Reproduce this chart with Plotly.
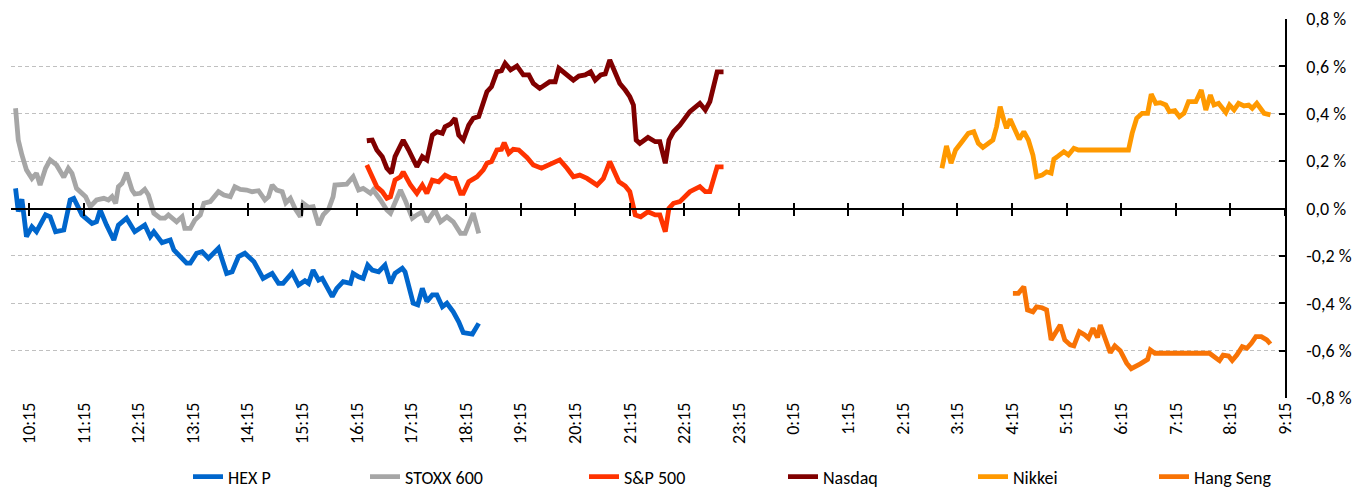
import plotly.graph_objects as go
from datetime import datetime, timedelta

# ---------------- data ----------------
TICK_LABELS = ["10:15", "11:15", "12:15", "13:15", "14:15", "15:15", "16:15", "17:15",
               "18:15", "19:15", "20:15", "21:15", "22:15", "23:15", "0:15", "1:15",
               "2:15", "3:15", "4:15", "5:15", "6:15", "7:15", "8:15", "9:15"]
Y_TICKS = [-0.8, -0.6, -0.4, -0.2, 0.0, 0.2, 0.4, 0.6, 0.8]
Y_TICK_LABELS = ["-0,8 %", "-0,6 %", "-0,4 %", "-0,2 %", "0,0 %", "0,2 %", "0,4 %", "0,6 %", "0,8 %"]

hex_t = ["10:00", "10:03", "10:07", "10:12", "10:18", "10:23", "10:33", "10:38", "10:44", "10:53",
         "11:00", "11:04", "11:13", "11:24", "11:29", "11:33", "11:40", "11:48", "11:53", "12:02",
         "12:11", "12:22", "12:28", "12:32", "12:41", "12:50", "12:54", "13:08", "13:12", "13:19",
         "13:25", "13:32", "13:43", "13:52", "13:58", "14:05", "14:12", "14:22", "14:32", "14:42",
         "14:49", "14:54", "15:04", "15:11", "15:18", "15:22", "15:27", "15:33", "15:37", "15:48",
         "15:53", "16:00", "16:08", "16:11", "16:17", "16:22", "16:27", "16:32", "16:39", "16:46",
         "16:52", "16:57", "17:05", "17:08", "17:17", "17:22", "17:27", "17:32", "17:38", "17:43",
         "17:49", "17:54", "18:01", "18:07", "18:12", "18:22", "18:29"]
hex_v = [0.085, -0.013, 0.039, -0.119, -0.077, -0.098, -0.027, -0.035, -0.098, -0.091,
         0.036, 0.043, -0.027, -0.063, -0.056, -0.006, -0.070, -0.133, -0.070, -0.041,
         -0.098, -0.070, -0.119, -0.098, -0.144, -0.133, -0.175, -0.231, -0.231, -0.189,
         -0.182, -0.210, -0.168, -0.274, -0.267, -0.203, -0.189, -0.225, -0.295, -0.274,
         -0.316, -0.316, -0.271, -0.323, -0.305, -0.316, -0.260, -0.302, -0.295, -0.372,
         -0.337, -0.309, -0.316, -0.274, -0.288, -0.295, -0.239, -0.260, -0.267, -0.239,
         -0.316, -0.274, -0.252, -0.267, -0.400, -0.407, -0.337, -0.393, -0.365, -0.365,
         -0.415, -0.400, -0.436, -0.478, -0.524, -0.530, -0.485]

stoxx_t = ["10:00", "10:03", "10:07", "10:12", "10:18", "10:23", "10:27", "10:33", "10:38", "10:45",
           "10:53", "10:58", "11:02", "11:07", "11:17", "11:22", "11:29", "11:37", "11:42", "11:46",
           "11:50", "11:53", "11:57", "12:02", "12:08", "12:11", "12:17", "12:22", "12:26", "12:32",
           "12:39", "12:44", "12:48", "12:57", "13:03", "13:06", "13:12", "13:17", "13:23", "13:27",
           "13:34", "13:43", "13:49", "13:56", "14:01", "14:07", "14:14", "14:20", "14:27", "14:34",
           "14:38", "14:42", "14:47", "14:53", "14:57", "15:02", "15:07", "15:13", "15:16", "15:22",
           "15:27", "15:33", "15:38", "15:44", "15:49", "15:51", "16:04", "16:11", "16:17", "16:22",
           "16:30", "16:33", "16:41", "16:48", "16:52", "16:59", "17:03", "17:08", "17:16", "17:21",
           "17:27", "17:32", "17:41", "17:47", "17:54", "18:01", "18:09", "18:14", "18:23", "18:29"]
stoxx_v = [0.423, 0.289, 0.226, 0.163, 0.127, 0.149, 0.099, 0.170, 0.205, 0.184,
           0.132, 0.170, 0.149, 0.085, 0.050, 0.008, 0.036, 0.043, 0.036, 0.050,
           0.022, 0.092, 0.106, 0.151, 0.078, 0.061, 0.064, 0.081, 0.057, -0.020,
           -0.041, -0.041, -0.027, -0.056, -0.035, -0.084, -0.084, -0.049, -0.027, 0.022,
           0.029, 0.071, 0.057, 0.050, 0.092, 0.081, 0.078, 0.071, 0.075, 0.036,
           0.050, 0.099, 0.078, 0.071, 0.024, 0.043, 0.001, -0.035, 0.022, 0.005,
           0.008, -0.070, -0.027, -0.003, 0.050, 0.099, 0.103, 0.134, 0.078, 0.085,
           0.064, 0.078, 0.036, -0.006, -0.020, 0.036, 0.078, 0.036, -0.041, -0.027,
           -0.014, -0.056, -0.006, -0.056, -0.035, -0.056, -0.105, -0.105, -0.020, -0.105]

sp_t = ["16:26", "16:32", "16:37", "16:43", "16:48", "16:52", "16:57", "17:03", "17:06", "17:14",
        "17:21", "17:27", "17:32", "17:38", "17:45", "17:52", "17:59", "18:03", "18:09", "18:12",
        "18:18", "18:27", "18:34", "18:38", "18:43", "18:49", "18:54", "18:57", "19:02", "19:07",
        "19:13", "19:22", "19:29", "19:38", "19:46", "19:51", "19:58", "20:06", "20:13", "20:20",
        "20:28", "20:39", "20:46", "20:53", "20:59", "21:03", "21:10", "21:15", "21:21", "21:27",
        "21:35", "21:43", "21:48", "21:54", "21:58", "22:03", "22:10", "22:21", "22:32", "22:38",
        "22:43", "22:47", "22:51", "22:58"]
sp_v = [0.184, 0.134, 0.092, 0.071, 0.043, 0.050, 0.120, 0.134, 0.155, 0.099,
        0.064, 0.099, 0.064, 0.120, 0.113, 0.141, 0.127, 0.127, 0.064, 0.064,
        0.113, 0.134, 0.163, 0.191, 0.198, 0.247, 0.250, 0.278, 0.233, 0.250,
        0.247, 0.216, 0.184, 0.170, 0.184, 0.188, 0.205, 0.170, 0.134, 0.141,
        0.127, 0.099, 0.127, 0.198, 0.141, 0.113, 0.095, 0.071, -0.027, -0.035,
        -0.014, -0.027, -0.027, -0.098, 0.001, 0.022, 0.029, 0.071, 0.092, 0.071,
        0.071, 0.127, 0.176, 0.176]

nasdaq_t = ["16:26", "16:32", "16:37", "16:43", "16:48", "16:53", "16:57", "17:01", "17:06", "17:12",
            "17:21", "17:27", "17:32", "17:38", "17:43", "17:49", "17:52", "17:58", "18:03", "18:07",
            "18:12", "18:18", "18:23", "18:29", "18:34", "18:38", "18:43", "18:49", "18:54", "18:58",
            "19:04", "19:11", "19:18", "19:24", "19:29", "19:36", "19:47", "19:53", "19:57", "20:04",
            "20:13", "20:19", "20:26", "20:32", "20:37", "20:43", "20:48", "20:53", "20:59", "21:04",
            "21:10", "21:15", "21:19", "21:22", "21:26", "21:35", "21:43", "21:48", "21:54", "21:58",
            "22:03", "22:10", "22:21", "22:32", "22:38", "22:43", "22:51", "22:58"]
nasdaq_v = [0.286, 0.289, 0.247, 0.219, 0.170, 0.149, 0.219, 0.247, 0.289, 0.247,
            0.176, 0.219, 0.205, 0.310, 0.324, 0.317, 0.345, 0.357, 0.381, 0.310,
            0.289, 0.352, 0.381, 0.388, 0.444, 0.493, 0.514, 0.577, 0.582, 0.613,
            0.585, 0.602, 0.564, 0.564, 0.528, 0.507, 0.535, 0.535, 0.592, 0.571,
            0.542, 0.559, 0.564, 0.577, 0.542, 0.564, 0.568, 0.627, 0.577, 0.528,
            0.500, 0.472, 0.437, 0.289, 0.275, 0.300, 0.282, 0.282, 0.191, 0.289,
            0.324, 0.352, 0.409, 0.444, 0.416, 0.451, 0.577, 0.577]

nikkei_t = ["2:58", "3:03", "3:08", "3:13", "3:20", "3:27", "3:33", "3:38", "3:43", "3:49",
            "3:54", "3:58", "4:02", "4:06", "4:09", "4:13", "4:19", "4:23", "4:28", "4:33",
            "4:38", "4:42", "4:48", "4:53", "4:58", "5:01", "5:06", "5:12", "5:17", "5:23",
            "5:28", "6:23", "6:27", "6:32", "6:38", "6:44", "6:48", "6:53", "6:58", "7:04",
            "7:08", "7:14", "7:19", "7:24", "7:29", "7:37", "7:43", "7:48", "7:53", "7:57",
            "8:02", "8:10", "8:14", "8:19", "8:24", "8:30", "8:35", "8:39", "8:44", "8:52",
            "8:59"]
nikkei_v = [0.170, 0.264, 0.191, 0.247, 0.282, 0.317, 0.324, 0.275, 0.258, 0.275,
            0.289, 0.345, 0.430, 0.374, 0.339, 0.377, 0.324, 0.292, 0.324, 0.289,
            0.226, 0.134, 0.141, 0.155, 0.149, 0.208, 0.222, 0.240, 0.226, 0.254,
            0.247, 0.247, 0.317, 0.381, 0.402, 0.402, 0.483, 0.444, 0.447, 0.437,
            0.409, 0.413, 0.388, 0.402, 0.451, 0.451, 0.500, 0.416, 0.479, 0.437,
            0.444, 0.405, 0.437, 0.416, 0.444, 0.433, 0.437, 0.423, 0.444, 0.402,
            0.395]

hang_t = ["4:16", "4:22", "4:28", "4:32", "4:38", "4:42", "4:48", "4:53", "4:58", "5:02",
          "5:08", "5:13", "5:19", "5:23", "5:29", "5:35", "5:39", "5:44", "5:49", "5:52",
          "5:58", "6:03", "6:08", "6:14", "6:21", "6:26", "6:36", "6:44", "6:47", "6:52",
          "7:52", "7:58", "8:03", "8:07", "8:13", "8:17", "8:22", "8:28", "8:33", "8:38",
          "8:43", "8:49", "8:55", "8:59"]
hang_v = [-0.358, -0.358, -0.330, -0.428, -0.436, -0.415, -0.419, -0.428, -0.555, -0.527,
          -0.492, -0.555, -0.576, -0.580, -0.520, -0.534, -0.548, -0.506, -0.544, -0.492,
          -0.555, -0.609, -0.580, -0.600, -0.653, -0.676, -0.656, -0.637, -0.597, -0.611,
          -0.611, -0.626, -0.642, -0.619, -0.623, -0.642, -0.619, -0.583, -0.590, -0.569,
          -0.541, -0.541, -0.555, -0.572]

X_START = "9:55"
X_END = "9:15"

# ---------------- helpers ----------------
BASE = datetime(2024, 5, 14)


def ts(s):
    h, m = map(int, s.split(":"))
    d = BASE + timedelta(hours=h, minutes=m)
    if h * 60 + m < 9 * 60 + 30:
        d += timedelta(days=1)
    return d


FONT = "Carlito, Calibri, Lato, sans-serif"
FS = 18

series = [
    ("HEX P", hex_t, hex_v, "#0066CC"),
    ("STOXX 600", stoxx_t, stoxx_v, "#A6A6A6"),
    ("S&P 500", sp_t, sp_v, "#FF3300"),
    ("Nasdaq", nasdaq_t, nasdaq_v, "#800000"),
    ("Nikkei", nikkei_t, nikkei_v, "#FF9900"),
    ("Hang Seng", hang_t, hang_v, "#F87305"),
]

legend_px = [188, 365, 584, 783, 973, 1154]  # left positions of legend entries (px)
W, H = 1357, 488
PLOT_L, PLOT_R, PLOT_T, PLOT_B = 11, 1285, 19, 398

fig = go.Figure()
for i, (name, t, v, col) in enumerate(series):
    lg = "legend" if i == 0 else f"legend{i + 1}"
    fig.add_trace(go.Scatter(
        x=[ts(s) for s in t], y=v, name=name, mode="lines",
        line=dict(color=col, width=4.8, shape="linear"),
        legend=lg, hoverinfo="x+y+name",
    ))

tickvals = [ts(s) for s in TICK_LABELS]
xrange = [ts(X_START), ts(X_END)]

layout = dict(
    width=W, height=H,
    margin=dict(l=PLOT_L, r=W - PLOT_R, t=PLOT_T, b=H - PLOT_B, autoexpand=False),
    paper_bgcolor="white", plot_bgcolor="white",
    font=dict(family=FONT, size=FS, color="black"),
    showlegend=True,
    xaxis=dict(
        type="date", range=xrange, tickmode="array", tickvals=tickvals, ticktext=TICK_LABELS,
        tickangle=-90, ticks="", showgrid=False, showline=False, zeroline=False,
        tickfont=dict(family=FONT, size=FS), automargin=False,
    ),
    xaxis2=dict(
        type="date", range=xrange, matches="x", overlaying="x", anchor="free", position=0.5,
        tickmode="array", tickvals=tickvals, showticklabels=False,
        ticks="outside", ticklen=6, tickwidth=1.5, tickcolor="black",
        showline=True, linecolor="black", linewidth=2, showgrid=False, zeroline=False,
        automargin=False,
    ),
    xaxis3=dict(
        type="date", range=xrange, matches="x", overlaying="x", anchor="free", position=0.5,
        tickmode="array", tickvals=tickvals, showticklabels=False,
        ticks="inside", ticklen=6, tickwidth=1.5, tickcolor="black",
        showline=False, showgrid=False, zeroline=False, automargin=False,
    ),
    yaxis=dict(
        side="right", range=[-0.8, 0.8], tickmode="array", tickvals=Y_TICKS, ticktext=Y_TICK_LABELS,
        showgrid=True, gridcolor="#C0C0C0", gridwidth=1, griddash="4px,3px",
        zeroline=False, showline=True, linecolor="black", linewidth=1.5,
        ticks="inside", ticklen=6, tickwidth=1.5, tickcolor="black",
        ticklabelstandoff=16, tickfont=dict(family=FONT, size=FS), automargin=False,
    ),
)

for i in range(len(series)):
    key = "legend" if i == 0 else f"legend{i + 1}"
    layout[key] = dict(
        orientation="h", xref="container", yref="container",
        x=legend_px[i] / W, xanchor="left",
        y=1 - 477 / H, yanchor="middle", bgcolor="rgba(0,0,0,0)",
        font=dict(family=FONT, size=FS, color="black"),
    )

fig.update_layout(**layout)
# invisible helper traces so the overlay axes are rendered
fig.add_trace(go.Scatter(x=[tickvals[0]], y=[None], xaxis="x2", showlegend=False, hoverinfo="skip"))
fig.add_trace(go.Scatter(x=[tickvals[0]], y=[None], xaxis="x3", showlegend=False, hoverinfo="skip"))

fig.write_html("out.html", config={"displayModeBar": False},
               post_script="document.body.style.margin='0px';document.body.style.overflow='hidden';")
